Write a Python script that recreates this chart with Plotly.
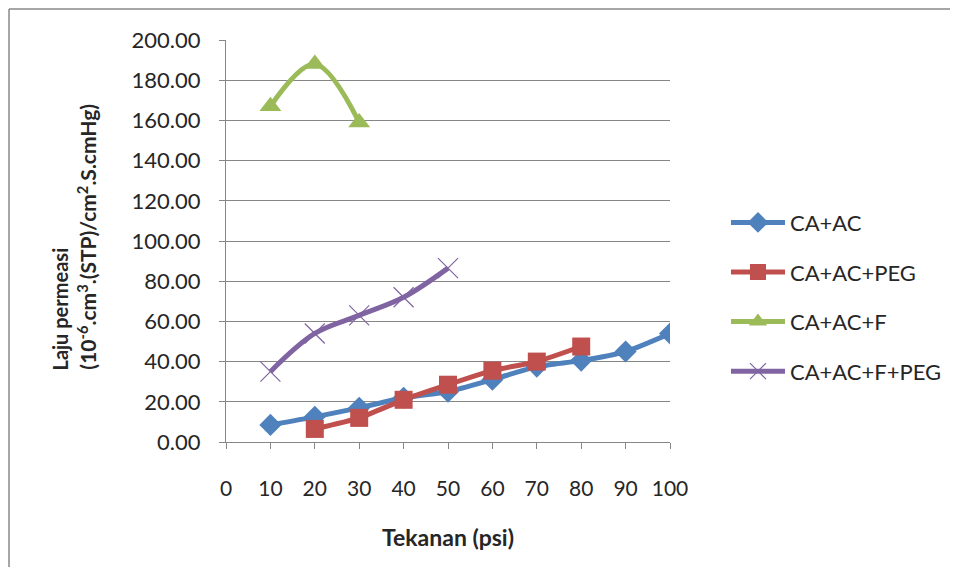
import plotly.graph_objects as go

x_all = [10, 20, 30, 40, 50, 60, 70, 80, 90, 100]
ca_ac = [8.5, 12.5, 17.0, 22.0, 25.0, 31.0, 37.5, 40.5, 45.0, 54.0]
x_peg = [20, 30, 40, 50, 60, 70, 80]
ca_ac_peg = [6.5, 12.0, 21.0, 28.5, 35.5, 40.0, 47.5]
x_f = [10, 20, 30]
ca_ac_f = [167.0, 188.0, 159.0]
x_fpeg = [10, 20, 30, 40, 50]
ca_ac_f_peg = [35.0, 54.0, 63.0, 72.0, 86.5]

x_ticks = [0, 10, 20, 30, 40, 50, 60, 70, 80, 90, 100]
y_ticks = [0, 20, 40, 60, 80, 100, 120, 140, 160, 180, 200]

FONT = "Lato"
TXT = "#262626"
fig = go.Figure()
fig.add_trace(go.Scatter(x=x_all, y=ca_ac, name="CA+AC", mode="lines+markers", legendgroup="a",
                         line=dict(color="#4F81BD", width=5, shape="spline", smoothing=0.6),
                         marker=dict(symbol="diamond", size=17, color="#4F81BD")))
fig.add_trace(go.Scatter(x=x_peg, y=ca_ac_peg, name="CA+AC+PEG", mode="lines+markers", legendgroup="b",
                         line=dict(color="#C0504D", width=5, shape="spline", smoothing=0.6),
                         marker=dict(symbol="square", size=18, color="#C0504D")))
fig.add_trace(go.Scatter(x=x_f, y=ca_ac_f, name="CA+AC+F", mode="lines+markers", legendgroup="c",
                         line=dict(color="#9BBB59", width=5, shape="spline", smoothing=1),
                         marker=dict(symbol="triangle-up", size=19, color="#9BBB59")))
fig.add_trace(go.Scatter(x=x_fpeg, y=ca_ac_f_peg, name="CA+AC+F+PEG", mode="lines+markers", legendgroup="d",
                         line=dict(color="#8064A2", width=5, shape="spline", smoothing=1),
                         marker=dict(symbol="x-thin", size=20, line=dict(color="#8064A2", width=1.2))))

fig.update_layout(
    width=942, height=559,
    margin=dict(l=218, r=280, t=32, b=125, autoexpand=False),
    paper_bgcolor="white", plot_bgcolor="white",
    font=dict(family=FONT, size=22, color=TXT),
    showlegend=True,
    legend=dict(xref="container", yref="container", x=0.7622, y=0.6537,
                xanchor="left", yanchor="top",
                font=dict(family=FONT, size=22, color=TXT),
                tracegroupgap=18, itemwidth=54, bgcolor="rgba(0,0,0,0)"),
    xaxis=dict(range=[0, 100], tickvals=x_ticks, ticktext=[str(v) for v in x_ticks],
               showgrid=False, showline=True, linecolor="#868686", linewidth=1,
               ticks="outside", ticklen=6, tickcolor="#868686", zeroline=False,
               ticklabelstandoff=22, tickfont=dict(size=21)),
    yaxis=dict(range=[0, 200], tickvals=y_ticks, tickformat=".2f",
               showgrid=True, gridcolor="#868686", gridwidth=1,
               showline=True, linecolor="#868686", linewidth=1,
               ticks="outside", ticklen=6, tickcolor="#868686", zeroline=False,
               ticklabelstandoff=14, tickfont=dict(size=22)),
)

# axis titles
fig.add_annotation(text="<b>Tekanan (psi)</b>", xref="paper", yref="paper", x=0.5, y=-0.236,
                   xanchor="center", yanchor="middle",
                   showarrow=False, font=dict(family=FONT, size=23, color=TXT))
fig.add_annotation(text="<b>Laju permeasi</b>", xref="paper", yref="paper", x=-0.374, y=0.174,
                   xanchor="center", yanchor="bottom", textangle=-90, showarrow=False,
                   font=dict(family=FONT, size=20, color=TXT))
fig.add_annotation(text="<b>(10<sup>-6</sup>.cm<sup>3</sup>.(STP)/cm<sup>2</sup>.S.cmHg)</b>",
                   xref="paper", yref="paper", x=-0.314, y=0.174,
                   xanchor="center", yanchor="bottom", textangle=-90, showarrow=False,
                   font=dict(family=FONT, size=21, color=TXT))

# outer chart frame (left and top edges)
fig.add_shape(type="line", xref="paper", yref="paper", x0=-0.4887, x1=-0.4887, y0=-0.32, y1=1.0771,
              line=dict(color="#888888", width=1.5))
fig.add_shape(type="line", xref="paper", yref="paper", x0=-0.4887, x1=1.64, y0=1.0771, y1=1.0771,
              line=dict(color="#888888", width=1.5))

fig.write_html("out.html")
